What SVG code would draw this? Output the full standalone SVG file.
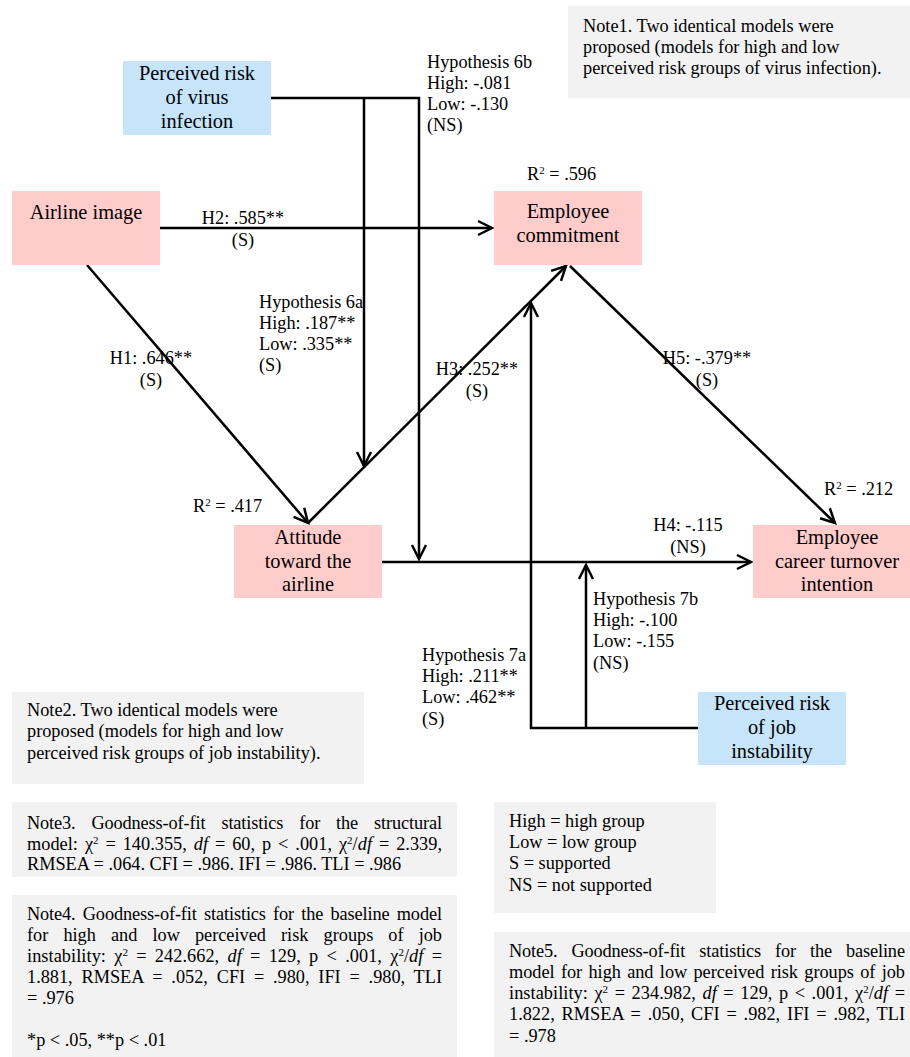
<svg xmlns="http://www.w3.org/2000/svg" width="910" height="1057" viewBox="0 0 910 1057">
<style>
text{font-family:"Liberation Serif","Times New Roman",serif;fill:#000}
.n{font-size:20.4px;text-anchor:middle}
.l{font-size:18.3px}
.c{text-anchor:middle}
.pink{fill:#ffcccc}
.blue{fill:#c6e4fa}
.note{fill:#f2f2f2}
.cn{fill:none;stroke:#000;stroke-width:2.5}
.sup{font-size:11px;baseline-shift:super}
.i{font-style:italic}
</style>
<defs>
<marker id="arr" viewBox="-16 -10 20 20" refX="0" refY="0" markerWidth="20" markerHeight="20" markerUnits="userSpaceOnUse" orient="auto">
<path d="M-14,-7 L0,0 L-14,7" fill="none" stroke="#000" stroke-width="2.5"/>
</marker>
</defs>
<rect width="910" height="1057" fill="#fff"/>

<g id="note1">
<rect class="note" x="568" y="6" width="342" height="92"/>
<text class="l" x="583" y="32">Note1. Two identical models were</text>
<text class="l" x="583" y="53">proposed (models for high and low</text>
<text class="l" x="583" y="74">perceived risk groups of virus infection).</text>
</g>

<g id="connectors">
<path class="cn" d="M271,98 H419 V559" marker-end="url(#arr)"/>
<path class="cn" d="M364,98 V466" marker-end="url(#arr)"/>
<path class="cn" d="M160,228 H492" marker-end="url(#arr)"/>
<path class="cn" d="M87,265 L308,523" marker-end="url(#arr)"/>
<path class="cn" d="M308,523 L566,266" marker-end="url(#arr)"/>
<path class="cn" d="M570,266 L835,523" marker-end="url(#arr)"/>
<path class="cn" d="M382,562 H751" marker-end="url(#arr)"/>
<path class="cn" d="M698,728 H531 V303" marker-end="url(#arr)"/>
<path class="cn" d="M586,728 V565" marker-end="url(#arr)"/>
</g>

<g id="virus">
<rect class="blue" x="123" y="61" width="148" height="74"/>
<text class="n" x="197" y="80">Perceived risk</text>
<text class="n" x="197" y="104">of virus</text>
<text class="n" x="197" y="128">infection</text>
</g>

<g id="airline">
<rect class="pink" x="12" y="191" width="148" height="74"/>
<text class="n" x="86" y="219">Airline image</text>
</g>

<g id="commitment">
<rect class="pink" x="494" y="191" width="148" height="74"/>
<text class="n" x="568" y="218">Employee</text>
<text class="n" x="568" y="242">commitment</text>
</g>

<g id="attitude">
<rect class="pink" x="234" y="525" width="148" height="73"/>
<text class="n" x="308" y="544">Attitude</text>
<text class="n" x="308" y="568">toward the</text>
<text class="n" x="308" y="591">airline</text>
</g>

<g id="turnover">
<rect class="pink" x="753" y="525" width="157" height="73"/>
<text class="n" x="837" y="544">Employee</text>
<text class="n" x="837" y="568">career turnover</text>
<text class="n" x="837" y="591">intention</text>
</g>

<g id="job">
<rect class="blue" x="698" y="692" width="148" height="73"/>
<text class="n" x="772" y="710">Perceived risk</text>
<text class="n" x="772" y="734">of job</text>
<text class="n" x="772" y="758">instability</text>
</g>

<g id="labels">
<text class="l" x="427" y="68">Hypothesis 6b</text>
<text class="l" x="427" y="89">High: -.081</text>
<text class="l" x="427" y="110">Low: -.130</text>
<text class="l" x="427" y="131">(NS)</text>

<text class="l" x="527" y="180">R<tspan class="sup">2</tspan> = .596</text>

<text class="l c" x="243" y="224">H2: .585**</text>
<text class="l c" x="243" y="246">(S)</text>

<text class="l" x="259" y="308">Hypothesis 6a</text>
<text class="l" x="259" y="329">High: .187**</text>
<text class="l" x="259" y="350">Low: .335**</text>
<text class="l" x="259" y="371">(S)</text>

<text class="l c" x="151" y="364">H1: .646**</text>
<text class="l c" x="151" y="386">(S)</text>

<text class="l c" x="477" y="375">H3: .252**</text>
<text class="l c" x="477" y="397">(S)</text>

<text class="l c" x="707" y="364">H5: -.379**</text>
<text class="l c" x="707" y="386">(S)</text>

<text class="l" x="193" y="512">R<tspan class="sup">2</tspan> = .417</text>
<text class="l" x="824" y="495">R<tspan class="sup">2</tspan> = .212</text>

<text class="l c" x="688" y="531">H4: -.115</text>
<text class="l c" x="688" y="553">(NS)</text>

<text class="l" x="593" y="605">Hypothesis 7b</text>
<text class="l" x="593" y="626">High: -.100</text>
<text class="l" x="593" y="647">Low: -.155</text>
<text class="l" x="593" y="669">(NS)</text>

<text class="l" x="422" y="661">Hypothesis 7a</text>
<text class="l" x="422" y="682">High: .211**</text>
<text class="l" x="422" y="703">Low: .462**</text>
<text class="l" x="422" y="725">(S)</text>
</g>

<g id="note2">
<rect class="note" x="12" y="692" width="352" height="92"/>
<text class="l" x="27" y="716">Note2. Two identical models were</text>
<text class="l" x="27" y="737">proposed (models for high and low</text>
<text class="l" x="27" y="759">perceived risk groups of job instability).</text>
</g>

<g id="note3">
<rect class="note" x="12" y="802" width="445" height="75"/>
<text class="l" x="27" y="829" word-spacing="11.5" textLength="415" lengthAdjust="spacing">Note3. Goodness-of-fit statistics for the structural</text>
<text class="l" x="27" y="850" word-spacing="2.3" textLength="415" lengthAdjust="spacing">model: χ<tspan class="sup">2</tspan> = 140.355, <tspan class="i">df</tspan> = 60, p &lt; .001, χ<tspan class="sup">2</tspan>/<tspan class="i">df</tspan> = 2.339,</text>
<text class="l" x="27" y="870">RMSEA = .064. CFI = .986. IFI = .986. TLI = .986</text>
</g>

<g id="legend">
<rect class="note" x="494" y="802" width="222" height="111"/>
<text class="l" x="509" y="827">High = high group</text>
<text class="l" x="509" y="848">Low = low group</text>
<text class="l" x="509" y="869">S = supported</text>
<text class="l" x="509" y="891">NS = not supported</text>
</g>

<g id="note4">
<rect class="note" x="12" y="895" width="445" height="162"/>
<text class="l" x="27" y="920" word-spacing="2.8" textLength="415" lengthAdjust="spacing">Note4. Goodness-of-fit statistics for the baseline model</text>
<text class="l" x="27" y="941" word-spacing="10.5" textLength="415" lengthAdjust="spacing">for high and low perceived risk groups of job</text>
<text class="l" x="27" y="962" word-spacing="3.6" textLength="415" lengthAdjust="spacing">instability: χ<tspan class="sup">2</tspan> = 242.662, <tspan class="i">df</tspan> = 129, p &lt; .001, χ<tspan class="sup">2</tspan>/<tspan class="i">df</tspan> =</text>
<text class="l" x="27" y="983" word-spacing="4.2" textLength="415" lengthAdjust="spacing">1.881, RMSEA = .052, CFI = .980, IFI = .980, TLI</text>
<text class="l" x="27" y="1004">= .976</text>
<text class="l" x="27" y="1046">*p &lt; .05, **p &lt; .01</text>
</g>

<g id="note5">
<rect class="note" x="494" y="932" width="416" height="125"/>
<text class="l" x="509" y="957" word-spacing="9.6" textLength="396" lengthAdjust="spacing">Note5. Goodness-of-fit statistics for the baseline</text>
<text class="l" x="509" y="978" word-spacing="1.8" textLength="396" lengthAdjust="spacing">model for high and low perceived risk groups of job</text>
<text class="l" x="509" y="999" word-spacing="1.9" textLength="396" lengthAdjust="spacing">instability: χ<tspan class="sup">2</tspan> = 234.982, <tspan class="i">df</tspan> = 129, p &lt; .001, χ<tspan class="sup">2</tspan>/<tspan class="i">df</tspan> =</text>
<text class="l" x="509" y="1020" word-spacing="2.3" textLength="396" lengthAdjust="spacing">1.822, RMSEA = .050, CFI = .982, IFI = .982, TLI</text>
<text class="l" x="509" y="1042">= .978</text>
</g>
</svg>
